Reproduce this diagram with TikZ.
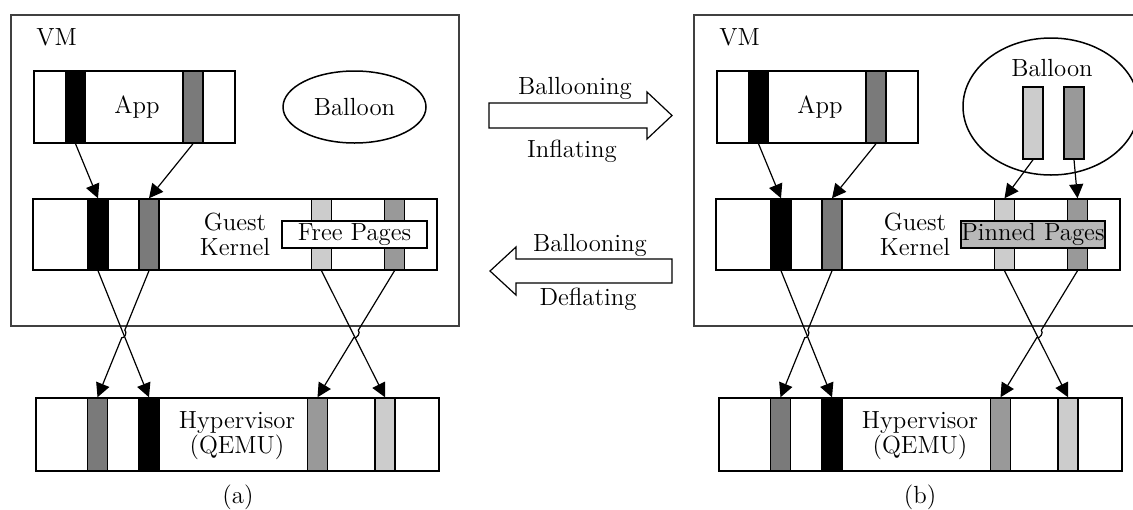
\documentclass[tikz,border=0pt]{standalone}
\usetikzlibrary{arrows.meta,calc,shapes.geometric}
\definecolor{barDark}{gray}{0.48}
\definecolor{barMid}{gray}{0.6}
\definecolor{barLight}{gray}{0.8}
\definecolor{pinFill}{gray}{0.72}
\begin{document}
\begin{tikzpicture}[x=0.5pt,y=-0.5pt,font=\fontsize{12.4}{12.5}\selectfont]

% Definitions
\tikzstyle{vmbox} = [draw=black!75, line width=1pt]
\tikzstyle{layer} = [rectangle, draw=black, line width=0.75pt, fill=white, inner sep=0]
\tikzstyle{bar} = [rectangle, draw=black, line width=0.75pt, minimum width=10pt, inner sep=0]
\tikzstyle{txt} = [inner sep=0, align=center]
\tikzstyle{arrow} = [line width=0.6pt, -{Triangle[length=7pt,width=7pt]}]
\tikzstyle{bigarrow} = [draw=black, line width=0.6pt, line join=miter]

\useasboundingbox (0,0) rectangle (1133,509);

% (a)
\draw [vmbox] (11,15) rectangle (459,326);
\node (vmA) [txt, anchor=west] at (36,37) {VM};

\node (appA) [layer, minimum width=100.5pt, minimum height=36pt] at (134.5,107) {};
\node (appA1) [bar, fill=black, minimum height=36pt] at (75.5,107) {};
\node (appA2) [bar, fill=barDark, minimum height=36pt] at (193,107) {};
\node (appAt) [txt] at (137,107) {App};

\node (ballA) [ellipse, draw, line width=0.75pt, minimum width=71.5pt, minimum height=36pt] at (354.5,107) {Balloon};

\node (kerA) [layer, minimum width=202pt, minimum height=35.5pt] at (235,234.5) {};
\node (kerA1) [bar, fill=black, minimum height=35.5pt] at (98,234.5) {};
\node (kerA2) [bar, fill=barDark, minimum height=35.5pt] at (149,234.5) {};
\node (kerA3) [bar, fill=barLight, minimum height=35.5pt] at (321.5,234.5) {};
\node (kerA4) [bar, fill=barMid, minimum height=35.5pt] at (394.5,234.5) {};
\node (kerAt) [txt] at (235,234) {Guest\\Kernel};
\node (freeA) [layer, minimum width=72.5pt, minimum height=13.5pt] at (354.5,234.5) {Free Pages};

\node (hypA) [layer, minimum width=201.5pt, minimum height=36.5pt] at (237.5,434.5) {};
\node (hypA1) [bar, fill=barDark, minimum height=36.5pt] at (97.5,434.5) {};
\node (hypA2) [bar, fill=black, minimum height=36.5pt] at (149,434.5) {};
\node (hypA3) [bar, fill=barMid, minimum height=36.5pt] at (317.5,434.5) {};
\node (hypA4) [bar, fill=barLight, minimum height=36.5pt] at (385,434.5) {};
\node (hypAt) [txt] at (237,436) {Hypervisor\\(QEMU)};
\node (capA) [txt] at (238,497) {(a)};

\draw [arrow] (appA1.south) -- (kerA1.north);
\draw [arrow] (appA2.south) -- (kerA2.north);
\draw [arrow] (kerA1.south) -- (hypA2.north);
\draw [arrow] (kerA2.south) -- ($(kerA2.south)!0.47!(hypA1.north)$) to[bend left=80] ($(kerA2.south)!0.53!(hypA1.north)$) -- (hypA1.north);
\draw [arrow] (kerA3.south) -- (hypA4.north);
\draw [arrow] (kerA4.south) -- ($(kerA4.south)!0.47!(hypA3.north)$) to[bend left=80] ($(kerA4.south)!0.53!(hypA3.north)$) -- (hypA3.north);

% middle
\draw [bigarrow] (489,103) -- (647,103) -- (647,92) -- (672,115.5) -- (647,139) -- (647,128) -- (489,128) -- cycle;
\node (inflTop) [txt] at (575,88) {Ballooning};
\node (inflBot) [txt] at (572,151) {Inflating};
\draw [bigarrow] (672,259) -- (516,259) -- (516,247) -- (490,271) -- (516,295) -- (516,283) -- (672,283) -- cycle;
\node (deflTop) [txt] at (590,245) {Ballooning};
\node (deflBot) [txt] at (588,299) {Deflating};

% (b)
\draw [vmbox] (694,15) rectangle (1142,326);
\node (vmB) [txt, anchor=west] at (719,37) {VM};

\node (appB) [layer, minimum width=100.5pt, minimum height=36pt] at (817.5,107) {};
\node (appB1) [bar, fill=black, minimum height=36pt] at (758.5,107) {};
\node (appB2) [bar, fill=barDark, minimum height=36pt] at (876,107) {};
\node (appBt) [txt] at (820,107) {App};

\node (ballB) [ellipse, draw, line width=0.75pt, minimum width=88pt, minimum height=68.5pt] at (1051,106.5) {};
\node (ballBt) [txt] at (1052,68) {Balloon};
\node (ballB1) [bar, fill=barLight, minimum height=36pt] at (1033,123) {};
\node (ballB2) [bar, fill=barMid, minimum height=36pt] at (1074,123) {};

\node (kerB) [layer, minimum width=202pt, minimum height=35.5pt] at (918,234.5) {};
\node (kerB1) [bar, fill=black, minimum height=35.5pt] at (781,234.5) {};
\node (kerB2) [bar, fill=barDark, minimum height=35.5pt] at (832,234.5) {};
\node (kerB3) [bar, fill=barLight, minimum height=35.5pt] at (1004.5,234.5) {};
\node (kerB4) [bar, fill=barMid, minimum height=35.5pt] at (1077.5,234.5) {};
\node (kerBt) [txt] at (915,234) {Guest\\Kernel};
\node (pinB) [layer, fill=pinFill, minimum width=72pt, minimum height=13.5pt] at (1033,234.5) {Pinned Pages};

\node (hypB) [layer, minimum width=201.5pt, minimum height=36.5pt] at (920.5,434.5) {};
\node (hypB1) [bar, fill=barDark, minimum height=36.5pt] at (780.5,434.5) {};
\node (hypB2) [bar, fill=black, minimum height=36.5pt] at (832,434.5) {};
\node (hypB3) [bar, fill=barMid, minimum height=36.5pt] at (1000.5,434.5) {};
\node (hypB4) [bar, fill=barLight, minimum height=36.5pt] at (1068,434.5) {};
\node (hypBt) [txt] at (920,436) {Hypervisor\\(QEMU)};
\node (capB) [txt] at (920,497) {(b)};

\draw [arrow] (appB1.south) -- (kerB1.north);
\draw [arrow] (appB2.south) -- (kerB2.north);
\draw [arrow] (ballB1.south) -- (kerB3.north);
\draw [arrow] (ballB2.south) -- (kerB4.north);
\draw [arrow] (kerB1.south) -- (hypB2.north);
\draw [arrow] (kerB2.south) -- ($(kerB2.south)!0.47!(hypB1.north)$) to[bend left=80] ($(kerB2.south)!0.53!(hypB1.north)$) -- (hypB1.north);
\draw [arrow] (kerB3.south) -- (hypB4.north);
\draw [arrow] (kerB4.south) -- ($(kerB4.south)!0.47!(hypB3.north)$) to[bend left=80] ($(kerB4.south)!0.53!(hypB3.north)$) -- (hypB3.north);

\end{tikzpicture}
\end{document}
